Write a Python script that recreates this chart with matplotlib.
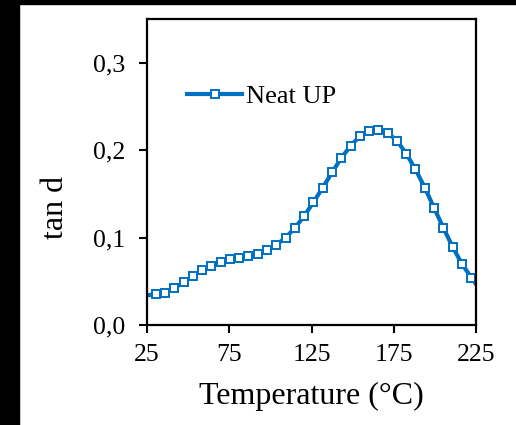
import matplotlib
matplotlib.use("Agg")
from matplotlib import pyplot as plt
from matplotlib.patches import Rectangle

# data (Temperature in C, tan d)
temperatura = [24.7, 30.3, 35.9, 41.6, 47.2, 52.9, 58.5, 64.1, 69.8, 75.4,
               81.1, 86.7, 92.3, 98.0, 103.6, 109.3, 114.9, 120.5, 126.2,
               131.8, 137.5, 143.1, 148.8, 154.4, 160.0, 165.7, 171.3, 177.0,
               182.6, 188.2, 193.9, 199.5, 205.2, 210.8, 216.4, 222.1, 227.7]
tan_d = [0.034, 0.035, 0.037, 0.042, 0.049, 0.056, 0.063, 0.068, 0.072, 0.075,
         0.077, 0.079, 0.0815, 0.086, 0.0916, 0.100, 0.111, 0.1245, 0.1405,
         0.157, 0.1745, 0.191, 0.205, 0.216, 0.222, 0.2236, 0.2198, 0.2107,
         0.196, 0.178, 0.157, 0.134, 0.111, 0.0893, 0.070, 0.0543, 0.040]
serie = "Neat UP"
xticks = [25, 75, 125, 175, 225]
yticks = [0.0, 0.1, 0.2, 0.3]
ytick_labels = ["0,0", "0,1", "0,2", "0,3"]

AZUL = "#0070C0"

plt.rcParams["font.family"] = ["Liberation Serif", "DejaVu Serif"]

fig = plt.figure(figsize=(5.16, 4.25), dpi=100)
# black frame on the left and top edges of the image
fig.patches.append(Rectangle((0, 0), 19 / 516, 1, transform=fig.transFigure,
                             color="black", zorder=0))
fig.patches.append(Rectangle((0, 421 / 425), 1, 4 / 425, transform=fig.transFigure,
                             color="black", zorder=0))

ax = fig.add_axes([147 / 516, 100 / 425, 329 / 516, 306 / 425])
ax.plot(temperatura, tan_d, color=AZUL, linewidth=3, marker="s",
        markersize=6.2, markerfacecolor="white", markeredgecolor=AZUL,
        markeredgewidth=1.4, markevery=slice(1, -1), label=serie)

ax.set_xlim(25, 225)
ax.set_ylim(0, 0.35)
ax.set_xticks(xticks)
ax.set_yticks(yticks)
ax.set_yticklabels(ytick_labels)
ax.tick_params(direction="out", length=5.5, width=1.5, labelsize=18.5,
               color="black")
ax.tick_params(axis="y", pad=10)
ax.tick_params(axis="x", pad=8)
for s in ax.spines.values():
    s.set_linewidth(1.6)
    s.set_color("black")

ax.set_xlabel("Temperature (°C)", fontsize=23)
ax.set_ylabel("tan d", fontsize=23)
ax.xaxis.label.set_va("center")
ax.yaxis.label.set_va("center")
ax.xaxis.set_label_coords(0.5, -0.235)
ax.yaxis.set_label_coords(-0.277, 0.384)

ax.legend(loc="center left", bbox_to_anchor=(0.1216, 0.748), frameon=False,
          fontsize=19, handlelength=2.1, handletextpad=0.15,
          borderpad=0, borderaxespad=0)

fig.savefig("out.png", dpi=100)
